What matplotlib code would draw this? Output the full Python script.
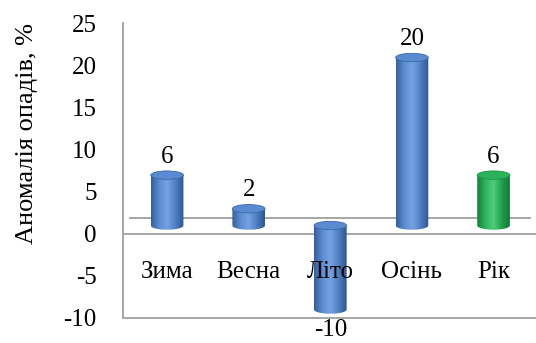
import numpy as np
import matplotlib
matplotlib.use('Agg')
import matplotlib.pyplot as plt
from matplotlib.colors import LinearSegmentedColormap
from matplotlib.patches import Ellipse, Polygon

seasons = ['Зима', 'Весна', 'Літо', 'Осінь', 'Рік']
anomaly = [6, 2, -10, 20, 6]
bar_kind = ['season', 'season', 'season', 'season', 'year']
y_ticks = [-10, -5, 0, 5, 10, 15, 20, 25]

palette = {
    'season': {'body': ['#33609e', '#5d8dd2', '#76a2e2', '#4f7fc2', '#2e5690'],
               'top': '#5a8bd2', 'edge': '#3b69a8'},
    'year': {'body': ['#12803a', '#2fb35e', '#4fcd7a', '#22a14f', '#117a36'],
             'top': '#2bb35c', 'edge': '#189044'},
}

plt.rcParams['font.family'] = ['Liberation Serif', 'DejaVu Serif']
fig = plt.figure(figsize=(5.36, 3.43), dpi=100)
ax = fig.add_axes([0.2295, 0.0743, 0.7705, 0.8572])

grey = '#a6a6a6'
shift = 0.95      # depth offset of the bars above the front floor edge
floor_back = 1.85
bar_w = 0.40
cap_h = 1.0
xs = np.arange(len(seasons))
fs = 18

for x, val, kind in zip(xs, anomaly, bar_kind):
    col = palette[kind]
    y0 = min(shift, val + shift)
    y1 = max(shift, val + shift)
    t = np.linspace(np.pi, 2 * np.pi, 40)
    arc = np.column_stack([x + bar_w / 2 * np.cos(t), y0 + cap_h / 2 * np.sin(t)])
    verts = np.vstack([[[x - bar_w / 2, y1]], arc, [[x + bar_w / 2, y1]]])
    body = Polygon(verts, closed=True, facecolor='none', edgecolor='none')
    ax.add_patch(body)
    cmap = LinearSegmentedColormap.from_list('cyl', col['body'])
    grad = np.linspace(0, 1, 64).reshape(1, -1)
    img = ax.imshow(grad, cmap=cmap, aspect='auto', zorder=2,
                    extent=(x - bar_w / 2, x + bar_w / 2, y0 - cap_h, y1),
                    interpolation='bilinear')
    img.set_clip_path(body)
    ax.add_patch(Ellipse((x, y1), bar_w, cap_h, facecolor=col['top'],
                         edgecolor=col['edge'], lw=0.6, zorder=3))

    if val >= 0:
        ax.annotate(str(val), (x, y1 + cap_h / 2), xytext=(0, 6),
                    textcoords='offset points', ha='center', va='baseline',
                    fontsize=fs)
    else:
        ax.annotate(str(val), (x, y0 - cap_h / 2), xytext=(0, -4),
                    textcoords='offset points', ha='center', va='top',
                    fontsize=fs, annotation_clip=False)

for x, name in zip(xs, seasons):
    ax.text(x, -4.6, name, ha='center', va='center', fontsize=fs, zorder=4)

ax.axhline(0, color=grey, lw=1.4, zorder=1)
ax.axhline(floor_back, xmin=0.017, xmax=0.985, color=grey, lw=1.4, zorder=1)

ax.set_xlim(-0.54, 4.52)
ax.set_ylim(-10, 25)
ax.set_xticks([])
ax.set_yticks(y_ticks)
ax.set_yticklabels([str(v) for v in y_ticks], fontsize=fs)
ax.tick_params(axis='y', length=0, pad=19)
for side in ['top', 'right']:
    ax.spines[side].set_visible(False)
for side in ['left', 'bottom']:
    ax.spines[side].set_color(grey)
    ax.spines[side].set_linewidth(1.4)

fig.text(0.05, 1 - 133 / 343, 'Аномалія опадів, %', rotation=90,
         ha='center', va='center', fontsize=19)

fig.savefig('out.png', dpi=100)
